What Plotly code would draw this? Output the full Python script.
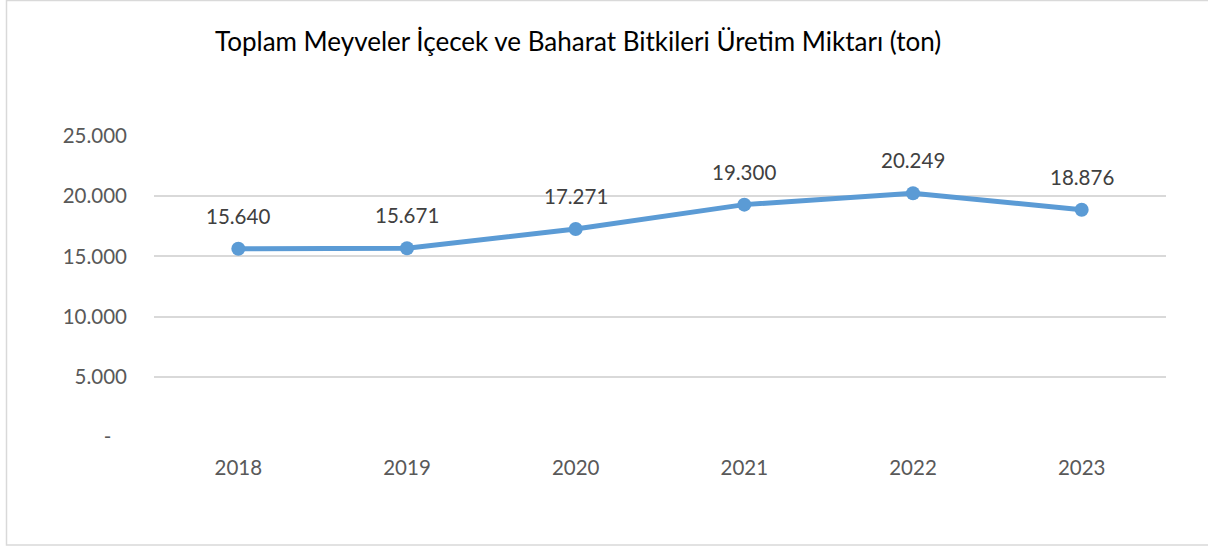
import plotly.graph_objects as go

years = ["2018", "2019", "2020", "2021", "2022", "2023"]
values = [15640, 15671, 17271, 19300, 20249, 18876]
value_labels = ["15.640", "15.671", "17.271", "19.300", "20.249", "18.876"]
y_tick_vals = [0, 5000, 10000, 15000, 20000, 25000]
y_tick_text = ["-\u00a0\u00a0\u00a0", "5.000", "10.000", "15.000", "20.000", "25.000"]
title_text = "Toplam Meyveler İçecek ve Baharat Bitkileri Üretim Miktarı (ton)"

W, H = 1208, 546
L, R, T, B = 154, 42, 136, 109
FONT = "Lato"
TICK_SIZE = 20.5

fig = go.Figure()
fig.add_trace(go.Scatter(
    x=years, y=values, mode="lines+markers",
    line=dict(color="#5B9BD5", width=5),
    marker=dict(color="#5B9BD5", size=14),
    hoverinfo="skip", showlegend=False,
))

for i, (y, t) in enumerate(zip(values, value_labels)):
    fig.add_annotation(x=i, y=y, xref="x", yref="y", text=t, showarrow=False, yshift=33,
                       font=dict(family=FONT, size=TICK_SIZE, color="#404040"))

pw = W - L - R
ph = H - T - B
def px_x(p):
    return (p - L) / pw
def px_y(p):
    return (H - B - p) / ph

fig.add_annotation(xref="paper", yref="paper", x=px_x(578), y=px_y(41),
                   text=title_text, showarrow=False, xanchor="center", yanchor="middle",
                   font=dict(family=FONT, size=26, color="#000000"))

fig.add_shape(type="rect", xref="paper", yref="paper",
              x0=px_x(6.5), x1=px_x(1215), y0=px_y(545), y1=px_y(0.5),
              line=dict(color="#D9D9D9", width=1.5), fillcolor="rgba(0,0,0,0)", layer="below")

fig.update_layout(
    width=W, height=H,
    margin=dict(l=L, r=R, t=T, b=B),
    paper_bgcolor="white", plot_bgcolor="white",
    font=dict(family=FONT, color="#595959", size=TICK_SIZE),
    xaxis=dict(type="category", range=[-0.5, 5.5], showgrid=False, zeroline=False,
               showline=False, ticks="", tickfont=dict(size=TICK_SIZE, color="#595959"),
               ticklabelstandoff=16),
    yaxis=dict(range=[0, 25000], tickvals=y_tick_vals, ticktext=y_tick_text,
               showgrid=True, gridcolor="#D9D9D9", gridwidth=1.5, zeroline=False,
               showline=False, ticks="", tickfont=dict(size=TICK_SIZE, color="#595959"),
               ticklabelstandoff=26),
)

fig.write_html("out.html")
